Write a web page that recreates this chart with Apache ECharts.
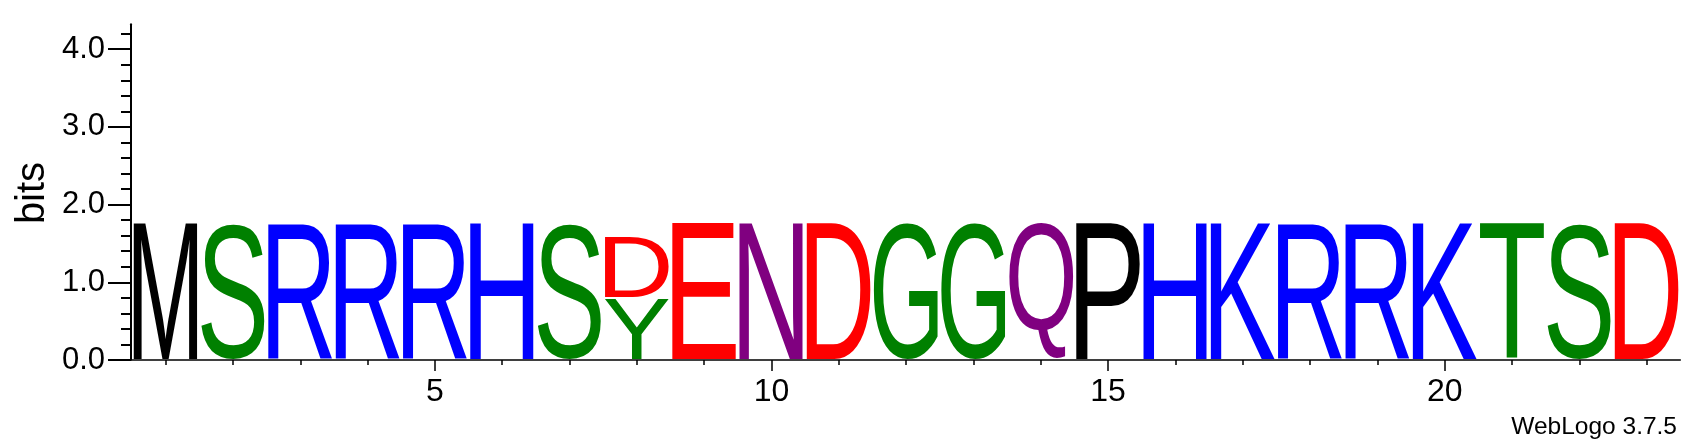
<!DOCTYPE html>
<html><head><meta charset="utf-8">
<script src="https://cdn.jsdelivr.net/npm/echarts@6/dist/echarts.min.js"></script>
<style>html,body{margin:0;padding:0;background:#fff}#c{width:1703px;height:444px}</style>
</head><body><div id="c"></div>
<script>
// ---- data ----
const positions = [1,2,3,4,5,6,7,8,9,10,11,12,13,14,15,16,17,18,19,20,21,22,23];
// letters per column, bottom to top
const columnLetters = [['M'],['S'],['R'],['R'],['R'],['H'],['S'],['Y','D'],['E'],['N'],['D'],['G'],['G'],['Q'],['P'],['H'],['K'],['R'],['R'],['K'],['T'],['S'],['D']];
// bits per letter, bottom to top
const columnBits = [[1.77],[1.77],[1.77],[1.77],[1.77],[1.77],[1.77],[0.79,0.795],[1.77],[1.77],[1.77],[1.77],[1.77],[1.77],[1.77],[1.77],[1.77],[1.77],[1.77],[1.77],[1.77],[1.77],[1.77]];
const xMajorTicks = [5,10,15,20];
const yMajorTicks = [0,1,2,3,4];
const yMinorTicks = [0.2,0.4,0.6,0.8,1.2,1.4,1.6,1.8,2.2,2.4,2.6,2.8,3.2,3.4,3.6,3.8,4.2];
const yMax = 4.32;
const letterColors = {
  M:'#000000', P:'#000000',
  S:'#008000', G:'#008000', T:'#008000', Y:'#008000',
  R:'#0000ff', H:'#0000ff', K:'#0000ff',
  D:'#ff0000', E:'#ff0000',
  N:'#800080', Q:'#800080'
};

// build stacked boxes
const boxes = [];
columnLetters.forEach(function(col, ci){
  let base = 0;
  col.forEach(function(l, li){
    const h = columnBits[ci][li];
    boxes.push([positions[ci], base, base + h, ci, li]);
    base += h;
  });
});

const FONT = '100px "Liberation Sans", Arial, sans-serif';
const mctx = document.createElement('canvas').getContext('2d');
const mcache = {};
function measure(ch){
  if (mcache[ch]) return mcache[ch];
  mctx.font = FONT; mctx.textAlign = 'center'; mctx.textBaseline = 'middle';
  const m = mctx.measureText(ch);
  const r = {l: -m.actualBoundingBoxLeft, r: m.actualBoundingBoxRight, t: -m.actualBoundingBoxAscent, b: m.actualBoundingBoxDescent};
  mcache[ch] = r; return r;
}

function renderLetter(params, api){
  const pos = api.value(0), y0 = api.value(1), y1 = api.value(2);
  const letter = columnLetters[api.value(3)][api.value(4)];
  const pl = api.coord([pos - 0.5, y1]);
  const pr = api.coord([pos + 0.5, y0]);
  const left = pl[0] + 1.5, right = pr[0] - 1.5, top = pl[1], bottom = pr[1] - 1.5;
  const m = measure(letter);
  const sx = (right - left) / (m.r - m.l);
  const sy = (bottom - top) / (m.b - m.t);
  return {
    type: 'text', silent: true,
    x: left - m.l * sx, y: top - m.t * sy, scaleX: sx, scaleY: sy,
    style: {text: letter, font: FONT, fill: letterColors[letter], align: 'center', verticalAlign: 'middle'}
  };
}

const LBL = '"Liberation Sans", Arial, sans-serif';
const gridBox = {left: 132, right: 22.7, top: 24.3, bottom: 84, containLabel: false, outerBoundsMode: 'none'};
const chart = echarts.init(document.getElementById('c'), null, {renderer: 'canvas'});
chart.setOption({
  animation: false,
  backgroundColor: '#ffffff',
  grid: [Object.assign({}, gridBox), Object.assign({}, gridBox)],
  xAxis: [
    {gridIndex: 0, type: 'value', min: 0.5, max: 23.5, position: 'bottom',
     axisLine: {show: true, lineStyle: {color: '#000', width: 1.5}},
     axisTick: {show: true, customValues: positions, length: 5, lineStyle: {color: '#000', width: 1.5}},
     axisLabel: {show: false}, splitLine: {show: false}},
    {gridIndex: 1, type: 'value', min: 0.5, max: 23.5, position: 'bottom',
     axisLine: {show: false},
     axisTick: {show: true, customValues: xMajorTicks, length: 11, lineStyle: {color: '#000', width: 1.5}},
     axisLabel: {show: true, customValues: xMajorTicks, margin: 16, fontSize: 32, fontFamily: LBL, color: '#000'},
     splitLine: {show: false}}
  ],
  yAxis: [
    {gridIndex: 0, type: 'value', min: 0, max: yMax, position: 'left', offset: 1,
     axisLine: {show: true, lineStyle: {color: '#000', width: 2}},
     axisTick: {show: true, customValues: yMajorTicks, length: 23, lineStyle: {color: '#000', width: 2}},
     axisLabel: {show: true, customValues: yMajorTicks, margin: 26, fontSize: 31, fontFamily: LBL, color: '#000',
       formatter: function(v){ return Number(v).toFixed(1); }},
     splitLine: {show: false}},
    {gridIndex: 1, type: 'value', min: 0, max: yMax, position: 'left', offset: 1,
     axisLine: {show: false},
     axisTick: {show: true, customValues: yMinorTicks, length: 10, lineStyle: {color: '#000', width: 2}},
     axisLabel: {show: false}, splitLine: {show: false}}
  ],
  graphic: [
    {type: 'text', x: 33, y: 193, rotation: Math.PI / 2, silent: true,
     style: {text: 'bits', align: 'center', verticalAlign: 'middle', font: '40px ' + LBL, fill: '#000'}},
    {type: 'text', x: 1677, y: 427, silent: true,
     style: {text: 'WebLogo 3.7.5', align: 'right', verticalAlign: 'middle', font: '24.5px ' + LBL, fill: '#000'}}
  ],
  series: [
    {type: 'custom', coordinateSystem: 'cartesian2d', xAxisIndex: 0, yAxisIndex: 0, clip: false,
     renderItem: renderLetter, encode: {x: 0, y: [1, 2]}, data: boxes},
    {type: 'line', xAxisIndex: 1, yAxisIndex: 1, data: [], silent: true}
  ]
});
</script>
</body></html>
